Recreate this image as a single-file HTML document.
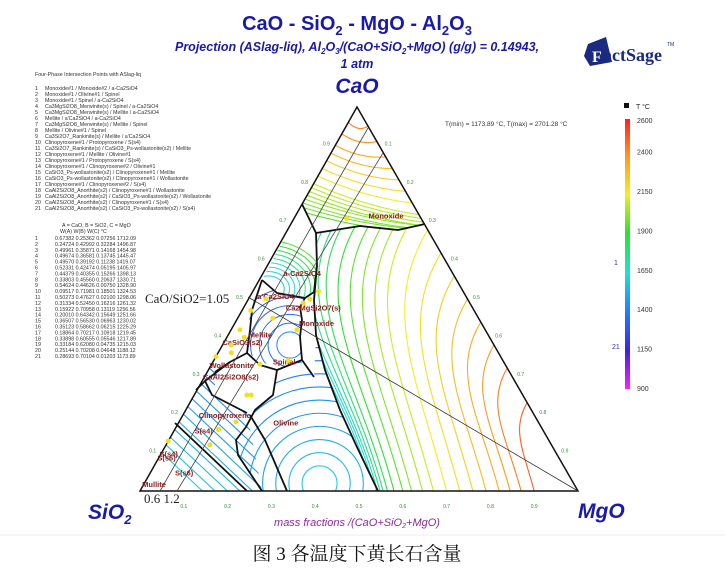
<!DOCTYPE html>
<html><head><meta charset="utf-8"><style>
html,body{margin:0;background:#fff;width:725px;height:580px;overflow:hidden;font-family:"Liberation Sans",sans-serif}
svg{position:absolute;left:0;top:0}
</style></head><body>
<svg width="725" height="580" viewBox="0 0 725 580">
<defs>
<linearGradient id="cb" x1="0" y1="0" x2="0" y2="1">
<stop offset="0" stop-color="#ff2020"/><stop offset="0.14" stop-color="#ff9a20"/><stop offset="0.28" stop-color="#f0f020"/><stop offset="0.42" stop-color="#30e030"/><stop offset="0.57" stop-color="#20e0d0"/><stop offset="0.71" stop-color="#2080ff"/><stop offset="0.86" stop-color="#4020e0"/><stop offset="1" stop-color="#ff20ff"/>
</linearGradient>
<clipPath id="rightReg"><polygon points="316,233 360,226 398,230 425,224 578,491 378,491 356,445 340,410 325,370 316,335 314,300 317,265"/></clipPath>
<clipPath id="topReg"><polygon points="357,107 425,224 398,230 360,226 316,233 302,204 290,180"/></clipPath>
<clipPath id="olivReg"><polygon points="262,491 248,470 238,455 236,440 246,427 255,410 273,395 277,370 300,360 314,377 316,335 325,370 340,410 356,445 378,491"/></clipPath>
<clipPath id="sReg"><polygon points="140,491 230,330 212,395 247,413 262,491"/></clipPath>
<clipPath id="caReg"><polygon points="302,204 316,233 317,265 314,292 305,298 277,293 262,280"/></clipPath>
<clipPath id="melReg"><polygon points="262,280 277,293 305,298 300,307 302,360 277,370 247,353 250,310"/></clipPath>
</defs>

<g>
<text x="357" y="30" text-anchor="middle" font-size="20" font-weight="bold" fill="#1a1aa8">CaO - SiO<tspan font-size="13" dy="5">2</tspan><tspan dy="-5"> - MgO - Al</tspan><tspan font-size="13" dy="5">2</tspan><tspan dy="-5">O</tspan><tspan font-size="13" dy="5">3</tspan></text>
<text x="357" y="51" text-anchor="middle" font-size="12.5" font-weight="bold" font-style="italic" fill="#1a1aa8">Projection (ASlag-liq),  Al<tspan font-size="8" dy="3">2</tspan><tspan dy="-3">O</tspan><tspan font-size="8" dy="3">3</tspan><tspan dy="-3">/(CaO+SiO</tspan><tspan font-size="8" dy="3">2</tspan><tspan dy="-3">+MgO) (g/g)  = 0.14943,</tspan></text>
<text x="357" y="68" text-anchor="middle" font-size="12.5" font-weight="bold" font-style="italic" fill="#1a1aa8">1 atm</text>
</g>
<g>
<polygon points="588,44 606,37 612,62 590,66 584,56" fill="#1a2a80"/>
<text x="592" y="62" font-size="16" font-weight="bold" fill="#fff" font-family="Liberation Serif,serif">F</text>
<text x="603" y="61" font-size="18" font-weight="bold" fill="#1a2a80" font-family="Liberation Serif,serif">actSage</text>
<text x="667" y="46" font-size="5" fill="#1a2a80">TM</text>
</g>

<text x="357" y="93" text-anchor="middle" font-size="21" font-weight="bold" font-style="italic" fill="#1a1aa8">CaO</text>
<text x="88" y="519" font-size="21" font-weight="bold" font-style="italic" fill="#1a1aa8">SiO<tspan font-size="13" dy="5">2</tspan></text>
<text x="578" y="518" font-size="21" font-weight="bold" font-style="italic" fill="#1a1aa8">MgO</text>
<text x="357" y="526" text-anchor="middle" font-size="11" font-style="italic" fill="#8a2a9a">mass fractions /(CaO+SiO<tspan font-size="7" dy="2">2</tspan><tspan dy="-2">+MgO)</tspan></text>
<line x1="0" y1="535" x2="725" y2="535" stroke="#eee"/>
<text x="357" y="560" text-anchor="middle" font-size="19" fill="#111" font-family="Liberation Serif,'Noto Serif CJK SC',serif">图 3  各温度下黄长石含量</text>

<text x="445" y="126" font-size="6.5" fill="#333">T(min) = 1173.89 °C, T(max) = 2701.28 °C</text>

<g id="contours"></g>
<g id="bounds"></g>

<polygon points="357,107 578,491 140,491" fill="none" stroke="#111" stroke-width="1.5"/>
<line x1="248" y1="297" x2="578" y2="491" stroke="#333" stroke-width="0.8"/>
<line x1="368" y1="128" x2="160" y2="491" stroke="#444" stroke-width="0.8"/>
<line x1="383" y1="153" x2="177" y2="491" stroke="#444" stroke-width="0.8"/>
<text x="145" y="303" font-size="13" fill="#222" font-family="Liberation Serif,serif">CaO/SiO2=1.05</text>
<text x="144" y="503" font-size="13" fill="#222" font-family="Liberation Serif,serif">0.6  1.2</text>

<g id="ticks"></g>
<g id="phaselabels"></g>
<g id="points"></g>

<g>
<rect x="624" y="103" width="5" height="5" fill="#111"/>
<text x="636" y="109" font-size="7" fill="#222">T °C</text>
<rect x="625" y="119" width="5" height="270" fill="url(#cb)"/>
<g id="cbticks"></g>
<text x="614" y="265" font-size="7" fill="#3030c0">1</text>
<text x="612" y="349" font-size="7" fill="#3030c0">21</text>
</g>

<g id="leftpanel" font-size="5.3" fill="#333"></g>
</svg>
<script>
// ---- data ----
const cbLabels=[2600,2400,2150,1900,1650,1400,1150,900];
const rightTemps=[2500,2450,2400,2350,2300,2250,2200,2150,2100,2050,2000,1950,1900,1850,1800,1750,1700,1650,1620];
const rightBottom=[0.10,0.13,0.155,0.18,0.21,0.24,0.27,0.30,0.33,0.355,0.38,0.40,0.42,0.435,0.445,0.452,0.458,0.463,0.468];
const rightTopA=[0.23,0.32,0.38,0.44,0.50,0.56,0.62,0.68,0.70,0.70,0.70,0.70,0.70,0.70,0.70,0.70,0.70,0.70,0.70];
const rightTopC=[0.77,0.68,0.62,0.56,0.50,0.44,0.38,0.32,0.27,0.24,0.21,0.18,0.15,0.12,0.10,0.08,0.06,0.05,0.04];
const topTemps=[2450,2400,2350,2300,2250,2200,2150,2100,2080,2060,2040,2020,2000,1980,1960];
const topLeft=[0.04,0.07,0.10,0.12,0.14,0.16,0.18,0.20,0.21,0.22,0.23,0.24,0.25,0.26,0.27];
const topRight=[0.05,0.09,0.13,0.16,0.19,0.22,0.25,0.28,0.29,0.30,0.31,0.31,0.32,0.32,0.33];
const olivTemps=[1600,1560,1520,1490,1460,1440,1420,1400,1380,1360,1340];
const olivRadius=[0.04,0.07,0.10,0.13,0.16,0.19,0.22,0.25,0.28,0.31,0.34];
const sTemps=[1600,1580,1560,1540,1520,1500,1480,1460,1440,1420,1400,1380];
const sStart=[0.10,0.12,0.14,0.16,0.18,0.20,0.22,0.24,0.26,0.28,0.30,0.32];
const caTemps=[1950,1900,1850,1800,1750,1700,1650,1620,1600];
const caRadius=[0.11,0.10,0.09,0.08,0.07,0.06,0.05,0.04,0.03];
const melTemps=[1400,1380,1360,1340,1320,1300];
const melRadius=[0.03,0.05,0.07,0.09,0.11,0.13];
const tickVals=[0.1,0.2,0.3,0.4,0.5,0.6,0.7,0.8,0.9];
const phaseLabels=["Monoxide","a-Ca2SiO4","a'Ca2SiO4","Ca2MgSi2O7(s)","Monoxide","Mellite","CaSiO3(s2)","Spinel","Wollastonite","CaAl2Si2O8(s2)","Clinopyroxene","S(s4)","Olivine","S(s6)","S(s4)","S(s6)","Mullite"];
const phaseA=[0.71,0.56,0.50,0.47,0.43,0.40,0.38,0.33,0.32,0.29,0.19,0.15,0.17,0.08,0.09,0.04,0.01];
const phaseC=[0.17,0.05,0.02,0.10,0.15,0.05,0.0,0.14,0.0,0.0,0.04,0.05,0.22,0.0,0.0,0.06,0.0];
const ptsA=[0.71,0.52,0.49,0.50,0.45,0.47,0.42,0.34,0.50,0.25,0.42,0.33,0.18,0.25,0.40,0.38,0.16,0.36,0.35,0.12,0.13];
const ptsC=[0.12,0.15,0.13,0.14,0.08,0.02,0.15,0.17,0.04,0.13,0.02,0.11,0.13,0.12,0.04,0.02,0.10,0.03,0.0,0.10,0.0];
const boundaries=[
 [[302,204],[316,233],[360,226],[398,230],[425,224]],
 [[316,233],[317,265],[314,292],[305,298]],
 [[262,280],[277,293],[305,298],[300,307],[302,320],[300,337],[302,360],[277,370]],
 [[317,265],[314,300],[316,335],[325,370],[340,410],[356,445],[378,491]],
 [[302,360],[314,377]],
 [[277,370],[273,395],[255,410],[246,427],[236,440],[238,455],[248,470],[262,491]],
 [[277,370],[260,365],[247,353],[230,362],[215,372]],
 [[247,353],[250,330],[252,310],[262,280]],
 [[205,381],[212,395],[247,413]],
 [[175,423],[211,457],[247,491]],
 [[250,415],[265,440],[287,491]],
 [[230,362],[222,368],[205,381],[196,390]]
];
// ---- helpers ----
const V={A:[357,107],B:[140,491],C:[578,491]}; // A=CaO, B=SiO2, C=MgO
function P(a,c){const b=1-a-c;return[a*V.A[0]+b*V.B[0]+c*V.C[0],a*V.A[1]+b*V.B[1]+c*V.C[1]];}
const cStops=[[2600,[255,32,32]],[2400,[255,154,32]],[2150,[240,240,32]],[1900,[48,224,48]],[1650,[32,224,208]],[1400,[32,128,255]],[1150,[64,32,224]],[900,[255,32,255]]];
function col(t){for(let i=0;i<cStops.length-1;i++){const[t0,c0]=cStops[i],[t1,c1]=cStops[i+1];if(t<=t0&&t>=t1){const f=(t0-t)/(t0-t1);return'rgb('+c0.map((v,k)=>Math.round(v+(c1[k]-v)*f)).join(',')+')';}}return t>2600?'rgb(255,32,32)':'rgb(255,32,255)';}
const NS='http://www.w3.org/2000/svg';
function mk(tag,attrs,parent){const e=document.createElementNS(NS,tag);for(const k in attrs)e.setAttribute(k,attrs[k]);parent.appendChild(e);return e;}
const cg=document.getElementById('contours');
function grp(clip){return mk('g',{'clip-path':'url(#'+clip+')'},cg);}
// right family
let g=grp('rightReg');
rightTemps.forEach((t,i)=>{const b=P(0,1-rightBottom[i]);
 const R=P(rightTopA[i],rightTopC[i]);const h=b[1]-R[1];
 const c1x=b[0]-0.12*h,c1y=b[1]-0.45*h,c2x=R[0]-0.18*h,c2y=R[1]+0.3*h;
 const e=mk('path',{d:`M${b[0]},${b[1]} C${c1x},${c1y} ${c2x},${c2y} ${R[0]},${R[1]}`,fill:'none',stroke:col(t),'stroke-width':1.1},g);
 
 });
// top family
g=grp('topReg');
topTemps.forEach((t,i)=>{const L=P(1-topLeft[i],0),R=P(1-topRight[i],topRight[i]);
 const e=mk('path',{d:`M${L[0]},${L[1]} Q${(L[0]+R[0])/2},${(L[1]+R[1])/2+8} ${R[0]},${R[1]}`,fill:'none',stroke:col(t),'stroke-width':1.1},g);
 
 });
// a-Ca2SiO4 region arcs
g=grp('caReg');
caTemps.forEach((t,i)=>{const c=P(0.5,0.0);const r=caRadius[i]*438;
 const e=mk('ellipse',{cx:c[0]+20,cy:c[1]-10,rx:r*1.2,ry:r,fill:'none',stroke:col(t),'stroke-width':1},g);
 
 });
// mellite arcs
g=grp('melReg');
melTemps.forEach((t,i)=>{const r=melRadius[i]*438;
 const e=mk('circle',{cx:290,cy:345,r:r,fill:'none',stroke:col(t),'stroke-width':1},g);
 
 });
// olivine arcs
g=grp('olivReg');
olivTemps.forEach((t,i)=>{const c=P(0.02,0.40);const r=olivRadius[i]*438;
 const e=mk('circle',{cx:c[0],cy:c[1],r:r,fill:'none',stroke:col(t),'stroke-width':1.1},g);
 
 });
// S region parallel lines
g=grp('sReg');
sTemps.forEach((t,i)=>{const s=P(sStart[i],0);
 const e=mk('line',{x1:s[0],y1:s[1],x2:s[0]+140,y2:s[1]+132,stroke:col(t),'stroke-width':1.1},g);
 
 });
// boundaries
const bg=document.getElementById('bounds');
boundaries.forEach(pts=>{const e=mk('polyline',{points:pts.map(p=>p.join(',')).join(' '),fill:'none',stroke:'#111','stroke-width':1.8,'stroke-linejoin':'round'},bg);
 
 });
// ticks
const tg=document.getElementById('ticks');
tickVals.forEach(v=>{
 let p=P(0,1-v);let e=mk('text',{x:p[0],y:p[1]+17,'font-size':5,fill:'#3a8a3a','text-anchor':'middle'},tg);e.textContent=(1-v).toFixed(1);
 
 
 p=P(v,0);e=mk('text',{x:p[0]-9,y:p[1],'font-size':5,fill:'#3a8a3a','text-anchor':'middle'},tg);e.textContent=v.toFixed(1);
 
 
 p=P(v,1-v);e=mk('text',{x:p[0]+9,y:p[1],'font-size':5,fill:'#3a8a3a','text-anchor':'middle'},tg);e.textContent=(1-v).toFixed(1);
 
 });
// phase labels
const pl=document.getElementById('phaselabels');
phaseLabels.forEach((s,i)=>{const p=P(phaseA[i],phaseC[i]);const e=mk('text',{x:p[0],y:p[1],'font-size':7.5,'font-weight':'bold',fill:'#8a1a1a'},pl);e.textContent=s;
 
 });
// invariant points
const pg=document.getElementById('points');
ptsA.forEach((a,i)=>{const p=P(a,ptsC[i]);const e=mk('circle',{cx:p[0],cy:p[1],r:2.5,fill:'#f0e020'},pg);
 
 });
// colorbar ticks
const cbt=document.getElementById('cbticks');
cbLabels.forEach((t,i)=>{const y=121+(2600-t)/1700*268;const e=mk('text',{x:637,y:y+2,'font-size':7,fill:'#333'},cbt);e.textContent=t;
 
 });
// left panel
const lp=document.getElementById('leftpanel');
const items=["Monoxide#1 / Monoxide#2 / a-Ca2SiO4","Monoxide#1 / Olivine#1 / Spinel","Monoxide#1 / Spinel / a-Ca2SiO4","Ca3MgSi2O8_Merwinite(s) / Spinel / a-Ca2SiO4","Ca3MgSi2O8_Merwinite(s) / Mellite / a-Ca2SiO4","Mellite / a'Ca2SiO4 / a-Ca2SiO4","Ca3MgSi2O8_Merwinite(s) / Mellite / Spinel","Mellite / Olivine#1 / Spinel","Ca3Si2O7_Rankinite(s) / Mellite / a'Ca2SiO4","Clinopyroxene#1 / Protopyroxene / S(s4)","Ca3Si2O7_Rankinite(s) / CaSiO3_Ps-wollastonite(s2) / Mellite","Clinopyroxene#1 / Mellite / Olivine#1","Clinopyroxene#1 / Protopyroxene / S(s4)","Clinopyroxene#1 / Clinopyroxene#2 / Olivine#1","CaSiO3_Ps-wollastonite(s2) / Clinopyroxene#1 / Mellite","CaSiO3_Ps-wollastonite(s2) / Clinopyroxene#1 / Wollastonite","Clinopyroxene#1 / Clinopyroxene#2 / S(s4)","CaAl2Si2O8_Anorthite(s2) / Clinopyroxene#1 / Wollastonite","CaAl2Si2O8_Anorthite(s2) / CaSiO3_Ps-wollastonite(s2) / Wollastonite","CaAl2Si2O8_Anorthite(s2) / Clinopyroxene#1 / S(s4)","CaAl2Si2O8_Anorthite(s2) / CaSiO3_Ps-wollastonite(s2) / S(s4)"];
const rows=[["0.67382","0.25362","0.07256","1712.09"],["0.24724","0.42992","0.32284","1496.87"],["0.49961","0.35871","0.14168","1454.98"],["0.49674","0.36581","0.13745","1445.47"],["0.49570","0.39192","0.11238","1419.07"],["0.52331","0.42474","0.05195","1405.97"],["0.44379","0.40355","0.15266","1398.13"],["0.33803","0.45560","0.20637","1330.71"],["0.54624","0.44626","0.00750","1328.90"],["0.09517","0.71981","0.18501","1324.53"],["0.50273","0.47627","0.02100","1298.06"],["0.31334","0.52450","0.16216","1261.32"],["0.15922","0.70958","0.13119","1256.56"],["0.20010","0.64342","0.15649","1251.66"],["0.36507","0.56530","0.06963","1230.02"],["0.35123","0.58662","0.06215","1225.29"],["0.18864","0.70217","0.10918","1219.45"],["0.33898","0.60555","0.05546","1217.89"],["0.33184","0.62080","0.04735","1215.03"],["0.25144","0.70208","0.04648","1188.12"],["0.28693","0.70104","0.01203","1173.89"]];
let e=mk('text',{x:35,y:76},lp);e.textContent='Four-Phase Intersection Points with ASlag-liq';
items.forEach((s,i)=>{let t=mk('text',{x:35,y:90+i*6},lp);t.textContent=(i+1);t=mk('text',{x:45,y:90+i*6},lp);t.textContent=s;});
e=mk('text',{x:62,y:227},lp);e.textContent='A = CaO,  B = SiO2,  C = MgO';
e=mk('text',{x:60,y:233},lp);e.textContent='W(A)       W(B)       W(C)       °C';
rows.forEach((r,i)=>{let t=mk('text',{x:35,y:240+i*5.9},lp);t.textContent=(i+1);t=mk('text',{x:55,y:240+i*5.9},lp);t.textContent=r.join('  ');});
</script>
</body></html>
